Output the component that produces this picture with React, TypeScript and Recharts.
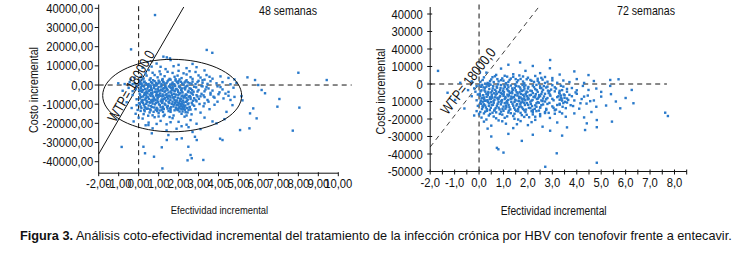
import { ReferenceDot, ReferenceLine, Scatter, ScatterChart, XAxis, YAxis } from "recharts";

const SANS = "'Liberation Sans', Arial, sans-serif";
const NARROW_X = 0.82; // Arial Narrow look from Liberation Sans
const INK = "#111";
const DOT = "#2a7acb";

// Cost-effectiveness plane, 48 semanas: [efectividad, costo]
const sims48: [number, number][] = [
  [0.45, 12000], [1.1, 9500], [1.6, 13000], [2.0, 10500], [2.4, 8800], [0.9, 11200], [2.9, 9300], [1.35, 8300], [3.3, 7600], [0.2, 9000],
  [0.1, 4200], [0.35, 6100], [0.6, 3500], [0.8, 5200], [1.05, 7100], [1.3, 4600], [1.55, 3200], [1.7, 6300], [1.95, 4900], [2.15, 3600],
  [2.4, 5500], [2.6, 4100], [2.85, 6800], [3.1, 3900], [3.4, 5200], [3.7, 3300], [4.1, 4500], [0.5, 7800], [1.2, 3100], [2.0, 7400],
  [0.25, 3400], [0.95, 4000], [1.85, 3000], [2.7, 3200], [4.5, 3700], [4.8, 2900], [-0.2, 3900], [-0.4, 2800],
  [-0.45, 1500], [-0.2, 800], [0.05, 2400], [0.15, 600], [0.3, 1800], [0.42, 300], [0.55, 2700], [0.68, 1100], [0.8, 2000], [0.92, 400],
  [1.05, 1600], [1.18, 2600], [1.3, 700], [1.45, 1900], [1.58, 200], [1.7, 1300], [1.85, 2300], [1.98, 900], [2.12, 1700], [2.25, 200],
  [2.4, 2500], [2.55, 1000], [2.7, 1800], [2.85, 500], [3.0, 2200], [3.2, 1200], [3.45, 600], [3.6, 2000], [3.9, 900], [4.2, 1500],
  [4.6, 400], [4.9, 1100], [0.2, 2900], [1.0, 900], [1.6, 2800], [2.3, 1300], [3.3, 2800], [0.75, 100], [1.25, 1400], [2.0, 2000],
  [-0.5, -1500], [-0.3, -3200], [-0.1, -600], [0.02, -2500], [0.1, -1200], [0.18, -3600], [0.25, -400], [0.33, -2100], [0.4, -3300], [0.48, -900],
  [0.56, -2700], [0.63, -1600], [0.7, -3800], [0.78, -500], [0.85, -2300], [0.93, -3500], [1.0, -1100], [1.08, -2900], [1.15, -300], [1.22, -1900],
  [1.3, -3700], [1.38, -1300], [1.45, -2600], [1.52, -700], [1.6, -3400], [1.68, -1800], [1.75, -2800], [1.83, -400], [1.9, -2200], [1.98, -3600],
  [2.05, -1000], [2.13, -2500], [2.2, -3900], [2.3, -1500], [2.4, -600], [2.5, -3000], [2.62, -2000], [2.75, -3500], [2.88, -1200], [3.0, -2600],
  [3.15, -500], [3.3, -3300], [3.5, -1800], [3.7, -2900], [3.95, -700], [4.2, -2300], [4.5, -3600], [4.75, -1400], [0.15, -2900], [0.6, -200],
  [1.2, -3100], [1.7, -900], [2.6, -3900], [3.4, -1000], [4.05, -3800],
  [-0.3, -5200], [-0.1, -7400], [0.05, -4500], [0.12, -6300], [0.2, -7800], [0.28, -5100], [0.36, -6900], [0.44, -4300], [0.52, -7300], [0.6, -5700],
  [0.68, -4800], [0.76, -6600], [0.84, -7900], [0.92, -5300], [1.0, -6100], [1.08, -4400], [1.16, -7500], [1.24, -5600], [1.32, -6800], [1.4, -4700],
  [1.48, -7100], [1.56, -5900], [1.64, -4200], [1.72, -6400], [1.8, -7700], [1.88, -5000], [1.96, -6700], [2.04, -4600], [2.12, -7300], [2.2, -5500],
  [2.28, -6200], [2.36, -4900], [2.46, -7600], [2.56, -5800], [2.66, -4400], [2.78, -6900], [2.9, -5300], [3.02, -7200], [3.15, -4600], [3.3, -6300],
  [3.45, -7800], [3.6, -5000], [3.8, -6600], [4.0, -4800], [4.25, -7000], [4.5, -5600], [4.8, -6200], [5.15, -5800], [0.3, -4100], [0.95, -7000],
  [1.6, -6500], [2.4, -5200], [3.1, -5900], [0.7, -7600], [1.2, -4900],
  [0.02, -9500], [0.1, -11200], [0.18, -8400], [0.26, -10300], [0.34, -11800], [0.42, -8900], [0.5, -10700], [0.58, -9200], [0.66, -11500], [0.74, -8200],
  [0.82, -10100], [0.9, -11900], [0.98, -9000], [1.06, -10500], [1.14, -8600], [1.22, -11300], [1.3, -9700], [1.38, -8100], [1.46, -10900], [1.54, -9400],
  [1.62, -11600], [1.7, -8700], [1.78, -10200], [1.86, -11800], [1.94, -9100], [2.0, -10600], [2.06, -8300], [2.12, -11000], [2.18, -9600], [2.24, -10400],
  [2.3, -11700], [2.38, -8800], [2.46, -10000], [2.56, -11400], [2.66, -9300], [2.78, -10800], [2.9, -8500], [3.05, -9900], [3.25, -11100], [3.5, -8700],
  [3.8, -10300], [2.1, -9900], [2.2, -11500], [1.95, -10300],
  [0.1, -13500], [0.25, -15200], [0.4, -12400], [0.55, -14300], [0.7, -15800], [0.85, -12900], [1.0, -14700], [1.15, -13100], [1.3, -15500], [1.45, -12300],
  [1.6, -14000], [1.75, -15900], [1.9, -12700], [2.05, -13800], [2.15, -15000], [2.25, -12500], [2.35, -14200], [2.5, -13000], [2.65, -15300], [2.85, -12600],
  [3.1, -14400], [0.6, -13200], [1.2, -12200], [2.0, -12200],
  [0.2, -17500], [0.5, -19600], [0.8, -16800], [1.1, -18700], [1.4, -20500], [1.7, -17300], [2.0, -19200], [2.3, -16500], [2.6, -18300], [2.9, -20200],
  [3.3, -17000], [3.7, -19000], [0.35, -21000], [1.25, -16200], [2.15, -21500], [4.3, -17800], [3.1, -23000], [1.9, -22800],
  [-0.6, -9000], [-0.35, -12000], [-0.15, -15000], [-0.25, -19000], [-0.8, -3000], [-0.7, 500],
  [0.12, -1700], [0.27, -800], [0.44, -1900], [0.61, -1000], [0.77, -1500], [0.96, -2000], [1.12, -800], [1.27, -1600], [1.41, -2100], [1.57, -1100],
  [1.73, -1400], [1.88, -2000], [2.02, -700], [2.18, -1800], [2.35, -1200], [2.55, -1700], [2.78, -900],
  [0.07, -3000], [0.22, -2600], [0.38, -3900], [0.52, -3100], [0.67, -2500], [0.83, -3600], [0.99, -3200], [1.13, -2400], [1.34, -3000], [1.5, -3900],
  [1.66, -2600], [1.81, -3200], [1.96, -2800], [2.16, -3300], [2.33, -2300], [2.47, -3700], [2.68, -2700], [2.95, -3400],
  [0.08, -5400], [0.23, -6000], [0.39, -5600], [0.55, -5000], [0.71, -5900], [0.87, -5500], [1.03, -5100], [1.19, -6000], [1.35, -5300], [1.51, -5500],
  [1.67, -5200], [1.83, -6100], [1.99, -5300], [2.15, -5900], [2.32, -5600], [2.51, -6100], [2.72, -5000], [2.95, -6000], [3.25, -5400],
  [0.06, -7000], [0.16, -8100], [0.32, -7600], [0.47, -6400], [0.63, -8000], [0.79, -7200], [0.95, -6500], [1.11, -8200], [1.27, -7300], [1.43, -6300],
  [1.59, -7800], [1.75, -7000], [1.91, -8000], [2.07, -7100], [2.23, -8100], [2.39, -6800], [2.6, -7300], [2.85, -7800],
  [0.06, -10000], [0.22, -9300], [0.38, -9800], [0.54, -9000], [0.7, -9700], [0.86, -9300], [1.02, -10100], [1.18, -9400], [1.34, -10300], [1.5, -9000],
  [1.66, -9900], [1.82, -9300], [1.9, -10500], [2.02, -9500], [2.14, -10200], [2.26, -9100], [2.34, -10700], [2.5, -9600], [2.7, -10200],
  [0.14, -12000], [0.3, -11300], [0.46, -12300], [0.62, -11000], [0.78, -11700], [0.94, -12400], [1.1, -11600], [1.26, -12500], [1.42, -11400], [1.58, -12200],
  [1.74, -11200], [1.9, -12400], [2.04, -11600], [2.16, -12600], [2.28, -11100], [2.42, -12000], [2.6, -12800],
  [0.1, 1300], [0.36, 900], [0.62, 1500], [0.88, 1100], [1.14, 500], [1.4, 1000], [1.66, 600], [1.92, 1500], [2.18, 800], [2.46, 1400],
  [0.3, -13700], [0.75, -14000], [1.05, -13300], [1.5, -13600], [1.8, -13200], [2.2, -13800], [2.45, -14300],
  [0.17, -400], [0.5, -600], [0.88, -300], [1.33, -500], [1.62, -1500], [2.08, -1300], [2.45, -300], [0.35, -4700], [0.62, -4200], [0.9, -4600],
  [1.1, -5700], [1.45, -5900], [1.78, -4600], [2.09, -4200], [2.25, -6600], [2.6, -6400], [0.14, -8900], [0.4, -8300], [0.68, -8700], [0.94, -8100],
  [1.2, -8400], [1.52, -8600], [1.85, -8500], [2.15, -8600], [2.42, -8200], [2.72, -8200], [0.28, -12900], [0.58, -12700], [0.92, -13600], [1.22, -14000],
  [1.6, -12900], [1.96, -13100], [2.1, -12300], [2.32, -12900], [2.55, -11800], [0.48, -16000], [1.0, -16400], [1.55, -16700], [2.4, -15900], [0.06, 400],
  [0.26, 1400], [0.5, 500], [0.72, 2500], [1.0, 2300], [1.22, 1800], [1.5, 2600], [1.78, 400], [2.05, 2900], [2.35, 1900], [2.65, 700],
  [2.95, 1500], [3.2, 2500], [0.4, 4900], [0.7, 6400], [1.1, 5600], [1.45, 6900], [1.8, 4300], [2.25, 6100], [2.55, 7200], [3.0, 5000],
  [3.55, 4300], [0.65, 9600], [1.75, 9800], [2.7, 11000], [3.2, -700], [3.35, -2300], [3.6, -4100], [3.75, -6100], [3.95, -8700], [3.3, -9600],
  [3.55, -12600], [4.1, -1100], [4.35, -4500], [4.6, -7800], [0.9, -20300], [1.6, -19400], [2.4, -20700], [0.7, -22600], [1.4, -23700], [2.5, -22000],
  [-0.1, -10500], [-0.15, -2200], [-0.3, 500], [-0.05, -13000], [0.0, -17000],
  [0.82, 36500], [-0.38, 18600], [3.41, 18300], [3.69, 16800], [1.24, 14800], [1.41, 14400], [1.57, 13900], [5.45, 4000], [8.0, 6400], [9.42, 2600],
  [5.83, 2600], [5.99, 0], [6.16, -2600], [6.33, -4300], [7.05, -7300], [6.95, -11300], [8.05, -11800], [7.72, -23800], [5.91, -17400], [5.58, -14800],
  [5.08, -23500], [5.55, -22600], [4.08, -28000], [4.2, -28700], [-0.85, -32300], [0.77, -37400], [1.19, -43500], [1.16, -32500], [1.41, -28700], [1.91, -28300],
  [2.16, -27800], [2.82, -27000], [2.91, -28700], [0.32, -35600], [2.49, -32200], [2.6, -36500], [2.66, -38200], [3.24, -39100], [2.45, -39300], [0.24, -32200],
  [0.66, -25200], [1.49, -26100], [0.49, -20900], [-1.02, 900], [5.74, -12200], [4.7, -10500], [5.2, -8000], [4.4, -14000], [3.9, -20000], [2.7, -24500],
];

// Cost-effectiveness plane, 72 semanas: [efectividad, costo]
const sims72: [number, number][] = [
  [0.3, 6500], [0.9, 8800], [1.4, 5600], [1.9, 7500], [2.5, 6200], [2.9, 9000], [3.3, 5400], [1.2, 11000], [2.2, 10300], [3.9, 7200],
  [0.7, 5200], [2.91, 13700], [1.68, 12300], [-1.68, 7500], [4.48, 5100],
  [0.05, 1200], [0.2, 3800], [0.35, 600], [0.5, 2600], [0.65, 4400], [0.8, 1500], [0.95, 3200], [1.1, 500], [1.25, 2300], [1.4, 4100],
  [1.55, 1000], [1.7, 2900], [1.85, 400], [2.0, 3600], [2.15, 1800], [2.3, 4600], [2.45, 800], [2.6, 2500], [2.8, 1300], [3.0, 3400],
  [3.2, 700], [3.45, 2000], [3.7, 1100], [4.0, 2800], [4.3, 600], [4.7, 1700], [5.37, 2300], [5.71, 2700], [1.05, 4700], [1.65, 4900],
  [0.42, 200], [2.7, 4000], [-0.3, 1500], [-0.77, 700],
  [-0.2, -2500], [0.02, -800], [0.1, -3600], [0.18, -1900], [0.26, -4400], [0.34, -300], [0.42, -2800], [0.5, -4800], [0.58, -1200], [0.66, -3300],
  [0.74, -2100], [0.82, -4600], [0.9, -600], [0.98, -3900], [1.06, -1600], [1.14, -2900], [1.22, -4200], [1.3, -900], [1.38, -3500], [1.46, -2200],
  [1.54, -4700], [1.62, -1400], [1.7, -3100], [1.78, -500], [1.86, -2600], [1.94, -4300], [2.02, -1700], [2.1, -3800], [2.2, -900], [2.3, -2900],
  [2.4, -4500], [2.5, -1300], [2.62, -3300], [2.75, -2000], [2.88, -4100], [3.0, -700], [3.15, -2600], [3.3, -3900], [3.45, -1500], [3.6, -4400],
  [3.8, -2300], [4.0, -3600], [4.25, -1100], [4.48, -3400], [4.8, -2600], [5.37, -1100], [6.25, -3400], [0.3, -1500], [1.0, -2600], [1.75, -4000],
  [2.55, -2400], [3.35, -1000], [5.0, -4500],
  [-0.3, -7000], [-0.1, -9300], [0.03, -5600], [0.1, -8200], [0.17, -6400], [0.24, -9600], [0.31, -7300], [0.38, -5200], [0.45, -8700], [0.52, -6100],
  [0.59, -9900], [0.66, -7600], [0.73, -5500], [0.8, -8400], [0.87, -6800], [0.94, -9200], [1.01, -5900], [1.08, -7900], [1.15, -9700], [1.22, -6300],
  [1.29, -8600], [1.36, -5300], [1.43, -7400], [1.5, -9400], [1.57, -6600], [1.64, -8100], [1.71, -5700], [1.78, -9000], [1.85, -7100], [1.92, -5400],
  [1.99, -8800], [2.07, -6500], [2.15, -9500], [2.23, -7300], [2.32, -5800], [2.41, -8300], [2.5, -6900], [2.6, -9800], [2.7, -5600], [2.8, -8000],
  [2.92, -6700], [3.05, -9300], [3.2, -7500], [3.3, -5500], [3.38, -8400], [3.5, -6400], [3.65, -9100], [3.8, -7000], [4.0, -5600], [4.2, -8600],
  [4.45, -6600], [4.7, -9400], [5.0, -7200], [5.4, -5800], [0.55, -7800], [1.2, -7000], [1.85, -8400], [2.45, -7500], [0.9, -5100], [1.65, -9900],
  [3.35, -6600], [6.32, -11000],
  [-0.05, -12500], [0.05, -10800], [0.12, -14300], [0.2, -11600], [0.28, -13400], [0.36, -10300], [0.44, -14900], [0.52, -12100], [0.6, -10700], [0.68, -13800],
  [0.76, -11300], [0.84, -14500], [0.92, -10500], [1.0, -12900], [1.08, -14100], [1.16, -11000], [1.24, -13300], [1.32, -10200], [1.4, -12400], [1.48, -14700],
  [1.56, -11500], [1.64, -13100], [1.72, -10600], [1.8, -14300], [1.88, -12000], [1.96, -10900], [2.04, -13600], [2.12, -11400], [2.2, -14800], [2.3, -12200],
  [2.4, -10400], [2.5, -13500], [2.62, -11700], [2.75, -14200], [2.88, -10800], [3.0, -12800], [3.15, -14600], [3.3, -11300], [3.42, -13000], [3.6, -10600],
  [3.85, -12600], [4.1, -14100], [4.4, -11200], [4.8, -13000], [5.2, -12300], [5.78, -13900], [0.4, -12500], [1.1, -12300], [1.7, -12800], [2.35, -13000],
  [0.0, -17300], [0.1, -19200], [0.25, -15800], [0.4, -18000], [0.55, -16400], [0.7, -19600], [0.85, -17100], [1.0, -15300], [1.15, -18500], [1.3, -16700],
  [1.45, -19900], [1.6, -15600], [1.75, -17800], [1.9, -16000], [2.05, -19000], [2.2, -17400], [2.35, -15500], [2.5, -18400], [2.7, -16600], [2.9, -19400],
  [3.1, -17000], [3.3, -15900], [3.55, -18700], [3.9, -16800], [4.3, -19100], [4.82, -20600], [-0.2, -18000], [-0.1, -15500],
  [0.2, -21500], [0.5, -23800], [0.8, -20800], [1.1, -22700], [1.4, -25200], [1.7, -21200], [2.0, -23500], [2.3, -20500], [2.6, -24400], [2.91, -26700],
  [3.2, -22000], [3.6, -24800], [4.41, -22500], [4.82, -24700], [5.44, -21500], [0.35, -25500], [1.55, -23000],
  [0.08, -1600], [0.24, -2300], [0.4, -1000], [0.56, -2500], [0.72, -1400], [0.88, -2300], [1.04, -900], [1.2, -1900], [1.36, -2500], [1.52, -1100],
  [1.68, -2000], [1.84, -1500], [2.0, -2600], [2.25, -1800], [2.5, -2200], [2.8, -1500],
  [0.06, -4200], [0.22, -3600], [0.38, -4500], [0.54, -3800], [0.7, -4300], [0.86, -3500], [1.02, -4600], [1.18, -3700], [1.34, -4400], [1.5, -3600],
  [1.66, -4700], [1.82, -3600], [1.98, -4600], [2.16, -4000], [2.36, -3500], [2.58, -4400], [2.82, -3800], [3.1, -4200], [3.4, -3500],
  [0.05, -6700], [0.2, -7700], [0.36, -6300], [0.52, -7200], [0.68, -6100], [0.84, -7400], [1.0, -6800], [1.16, -6100], [1.32, -7200], [1.48, -6300],
  [1.64, -7300], [1.8, -6200], [1.96, -7000], [2.12, -6200], [2.28, -7600], [2.46, -6300], [2.66, -7100], [2.9, -6000], [3.25, -7000], [3.5, -7900],
  [0.07, -9600], [0.21, -8700], [0.35, -9300], [0.49, -8500], [0.63, -9100], [0.77, -8800], [0.91, -9700], [1.05, -8600], [1.19, -9100], [1.33, -8300],
  [1.47, -8900], [1.61, -9600], [1.75, -8400], [1.89, -9300], [2.03, -8400], [2.19, -9100], [2.37, -8600], [2.55, -9400], [2.75, -8700], [3.0, -8500],
  [3.3, -9000],
  [0.09, -11300], [0.25, -12300], [0.41, -11100], [0.57, -11900], [0.73, -12500], [0.89, -11600], [1.05, -10900], [1.21, -12000], [1.37, -11300], [1.53, -12300],
  [1.69, -11500], [1.85, -10800], [2.01, -11900], [2.17, -12600], [2.35, -11000], [2.55, -12100], [2.8, -11400], [3.2, -12000], [3.45, -10900],
  [0.15, -13200], [0.32, -14400], [0.48, -13600], [0.64, -14600], [0.8, -13500], [0.96, -14200], [1.12, -13200], [1.28, -14500], [1.44, -13700], [1.6, -14300],
  [1.76, -13400], [1.92, -14600], [2.1, -13800], [2.28, -14200], [2.5, -13400], [2.75, -14800], [3.05, -13600],
  [0.2, -16800], [0.45, -17100], [0.7, -16200], [0.95, -17500], [1.2, -16300], [1.45, -17000], [1.7, -16500], [1.95, -17600], [2.2, -16100], [2.5, -17200],
  [2.85, -16500], [0.05, -16000],
  [0.15, 2300], [0.45, 1700], [0.75, 2800], [1.0, 1900], [1.3, 3100], [1.6, 2100], [1.95, 2700], [2.25, 1200], [2.55, 3500], [3.0, 2100],
  [3.28, -5000], [3.35, -7800], [3.4, -9500], [3.52, -10200], [3.6, -8300], [3.47, -6000], [3.3, -11800], [3.55, -13800],
  [0.13, -500], [0.47, -400], [0.78, -200], [1.17, -600], [1.48, -300], [1.9, -800], [2.35, -500], [0.3, -5600], [0.62, -5300], [0.95, -5600],
  [1.26, -5100], [1.58, -5400], [1.9, -5900], [2.2, -5200], [2.55, -5700], [2.85, -5200], [0.14, -8000], [0.44, -7600], [0.75, -7900], [1.08, -7400],
  [1.38, -7700], [1.7, -7700], [2.0, -7900], [2.3, -7000], [2.62, -8300], [0.16, -10100], [0.48, -10400], [0.8, -10200], [1.12, -10500], [1.45, -10300],
  [1.78, -10300], [2.1, -10100], [2.45, -10700], [2.7, -10000], [0.32, -15300], [0.62, -15200], [0.9, -15800], [1.22, -15200], [1.52, -15400], [1.85, -15000],
  [2.15, -15500], [2.45, -15200], [2.7, -16000], [0.6, -18600], [1.05, -19300], [1.4, -18300], [1.85, -18800], [2.3, -18700], [0.3, -20300], [0.95, -21300],
  [1.6, -20300], [2.15, -21800], [0.25, 200], [0.6, 1100], [0.9, 2200], [1.2, 1200], [1.5, 2800], [1.8, 1400], [2.1, 2300], [2.4, 1800],
  [2.7, 600], [0.55, 3900], [1.15, 4200], [1.8, 4300], [2.4, 3000], [0.15, -12600], [0.3, -9500], [-0.05, -6000], [-0.15, -4400], [-0.1, -1200],
  [3.7, -6200], [3.9, -9400], [3.75, -12100], [3.95, -4800], [4.15, -11000], [4.3, -7200], [4.55, -9800], [3.1, -15000], [3.4, -16800], [3.6, -2800],
  [3.1, -1900], [2.95, -3200], [2.65, -1200],
  [7.62, -16400], [7.73, -18300], [0.73, -36500], [0.79, -37300], [1.0, -39200], [3.18, -39600], [2.71, -47300], [4.82, -45000], [1.75, -32500], [4.34, -26300],
  [-1.29, -5000], [-0.98, -9100], [-0.6, -14000], [-0.45, -3500], [1.2, -28500], [2.2, -29000], [0.5, -30000], [3.4, -29500], [6.0, -8000], [5.6, -10000],
  [4.6, -16000],
];

const WTP = 18000;

const xTicks48 = [-2, -1, 0, 1, 2, 3, 4, 5, 6, 7, 8, 9, 10];
const yTicks48 = [-40000, -30000, -20000, -10000, 0, 10000, 20000, 30000, 40000];

const xTicks72 = [-2, -1.5, -1, -0.5, 0, 0.5, 1, 1.5, 2, 2.5, 3, 3.5, 4, 4.5, 5, 5.5, 6, 6.5, 7, 7.5, 8, 8.5];
const xLabels72 = [-2, -1, 0, 1, 2, 3, 4, 5, 6, 7, 8];
const yTicks72 = [40000, 30000, 20000, 10000, 0, -10000, -20000, -30000, -40000, -50000];
// labels exactly as printed in the figure
const yLabels72 = ["40000", "30000", "40000", "10000", "0", "10000", "-20000", "-30000", "-40000", "-50000"];

// confidence ellipse drawn on the 48-week plane
const ellipse48 = { cx: 1.68, cy: -5500, rx: 3.48, ry: 18900 };
const ellipsePts = Array.from({ length: 73 }, (_, i) => {
  const t = (i / 72) * Math.PI * 2;
  return { x: ellipse48.cx + ellipse48.rx * Math.cos(t), y: ellipse48.cy + ellipse48.ry * Math.sin(t) };
});

const toPts = (rows: [number, number][]) => rows.map(([x, y]) => ({ x, y }));

const comma = (v: number, d: number) => v.toFixed(d).replace(".", ",");

const dot = (p: any) => <rect x={p.cx - 1.2} y={p.cy - 1.2} width={2.4} height={2.4} fill={DOT} />;

// narrow text: Liberation Sans squeezed horizontally
function NText({ x, y, size, anchor = "middle", rotate = 0, sx = NARROW_X, dy, children }: any) {
  return (
    <text
      transform={`translate(${x} ${y}) rotate(${rotate}) scale(${sx} 1)`}
      x={0}
      y={0}
      dy={dy}
      textAnchor={anchor}
      fontSize={size}
      fontFamily={SANS}
      fill={INK}
    >
      {children}
    </text>
  );
}

function XTick(props: any) {
  const { x, y, payload, up, down, label } = props;
  return (
    <g>
      <line x1={x} x2={x} y1={y - up} y2={y + down} stroke={INK} />
      {label != null && (
        <NText x={x} y={y + 15} size={12.5} sx={0.9}>
          {label(payload.value)}
        </NText>
      )}
    </g>
  );
}

function YTick(props: any) {
  const { x, y, payload, left, right, gap, label } = props;
  return (
    <g>
      <line x1={x - left} x2={x + right} y1={y} y2={y} stroke={INK} />
      <NText x={x - gap} y={y} dy="0.36em" anchor="end" size={12.5} sx={0.9}>
        {label(payload.value)}
      </NText>
    </g>
  );
}

function Plane48() {
  return (
    <ScatterChart width={370} height={220} margin={{ top: 4.5, right: 31.7, bottom: 16.8, left: 38.7 }}>
      <XAxis
        type="number"
        dataKey="x"
        domain={[-2, 10]}
        allowDataOverflow
        ticks={xTicks48}
        interval={0}
        height={30}
        stroke={INK}
        tickSize={0}
        tickMargin={0}
        tickLine={false}
        tick={(p: any) => <XTick {...p} up={1} down={3} label={(v: number) => comma(v, 2)} />}
      />
      <YAxis
        type="number"
        dataKey="y"
        domain={[-46000, 42000]}
        allowDataOverflow
        ticks={yTicks48}
        interval={0}
        width={60}
        stroke={INK}
        tickSize={0}
        tickMargin={0}
        tickLine={false}
        tick={(p: any) => <YTick {...p} left={4} right={0} gap={5.5} label={(v: number) => comma(v, 2)} />}
      />
      <ReferenceLine x={0} stroke={INK} strokeDasharray="5 4" />
      <ReferenceLine segment={[{ x: -2, y: 0 }, { x: 10.67, y: 0 }]} stroke={INK} strokeDasharray="5 4" ifOverflow="visible" />
      <ReferenceLine segment={[{ x: -2, y: -2 * WTP }, { x: 2.26, y: 2.26 * WTP }]} stroke={INK} ifOverflow="visible" />
      <Scatter data={toPts(sims48)} shape={dot} isAnimationActive={false} />
      <Scatter
        data={ellipsePts}
        line={{ stroke: INK, strokeWidth: 1 }}
        lineType="joint"
        shape={() => <g />}
        isAnimationActive={false}
      />
      <ReferenceDot
        x={-0.38}
        y={-500}
        shape={(p: any) => (
          <NText x={p.cx} y={p.cy} dy="0.35em" size={14.5} rotate={-60}>
            WTP= 18000,0
          </NText>
        )}
      />
    </ScatterChart>
  );
}

function Plane72() {
  return (
    <ScatterChart width={368} height={220} margin={{ top: 7, right: 51.3, bottom: 18.5, left: 10.2 }}>
      <XAxis
        type="number"
        dataKey="x"
        domain={[-2, 8.5]}
        allowDataOverflow
        ticks={xTicks72}
        interval={0}
        height={30}
        stroke={INK}
        tickSize={0}
        tickMargin={0}
        tickLine={false}
        tick={(p: any) => (
          <XTick {...p} up={2} down={3} label={xLabels72.includes(p.payload.value) ? (v: number) => comma(v, 1) : null} />
        )}
      />
      <YAxis
        type="number"
        dataKey="y"
        domain={[-50000, 44000]}
        allowDataOverflow
        ticks={yTicks72}
        interval={0}
        width={50}
        stroke={INK}
        tickSize={0}
        tickMargin={0}
        tickLine={false}
        tick={(p: any) => (
          <YTick {...p} left={3} right={2} gap={7.5} label={(v: number) => yLabels72[yTicks72.indexOf(v)]} />
        )}
      />
      <ReferenceLine segment={[{ x: 0, y: -50000 }, { x: 0, y: 46000 }]} stroke={INK} strokeDasharray="5 4" ifOverflow="visible" />
      <ReferenceLine segment={[{ x: -2, y: 0 }, { x: 7.69, y: 0 }]} stroke={INK} strokeDasharray="5 4" ifOverflow="visible" />
      <ReferenceLine
        segment={[{ x: -2, y: -2 * WTP }, { x: 2.43, y: 2.43 * WTP }]}
        stroke={INK}
        strokeWidth={0.8}
        strokeDasharray="5 4"
        ifOverflow="visible"
      />
      <Scatter data={toPts(sims72)} shape={dot} isAnimationActive={false} />
      <ReferenceDot
        x={-0.45}
        y={1700}
        shape={(p: any) => (
          <NText x={p.cx} y={p.cy} dy="0.35em" size={14.5} rotate={-52}>
            WTP= 18000,0
          </NText>
        )}
      />
    </ScatterChart>
  );
}

export default function App() {
  return (
    <div style={{ position: "absolute", left: 0, top: 0, width: 738, height: 256, background: "#fff", overflow: "hidden" }}>
      <div style={{ position: "absolute", left: 0, top: 0 }}>
        <Plane48 />
      </div>
      <div style={{ position: "absolute", left: 370, top: 0 }}>
        <Plane72 />
      </div>
      <svg width={738} height={256} style={{ position: "absolute", left: 0, top: 0, pointerEvents: "none" }}>
        <NText x={288} y={14.5} size={13}>48 semanas</NText>
        <NText x={646} y={14.5} size={13}>72 semanas</NText>
        <NText x={33.5} y={90} dy="0.35em" size={13} rotate={-90}>Costo incremental</NText>
        <NText x={380} y={91.5} dy="0.35em" size={13} rotate={-90}>Costo incremental</NText>
        <NText x={219.5} y={214} size={11.5}>Efectividad incremental</NText>
        <NText x={553.7} y={215} size={12.5}>Efectividad incremental</NText>
        <NText x={20} y={239.5} size={13} anchor="start" sx={0.98}>
          <tspan fontWeight="bold">Figura 3.</tspan> Análisis coto-efectividad incremental del tratamiento de la infección crónica
          por HBV con tenofovir frente a entecavir.
        </NText>
      </svg>
    </div>
  );
}
